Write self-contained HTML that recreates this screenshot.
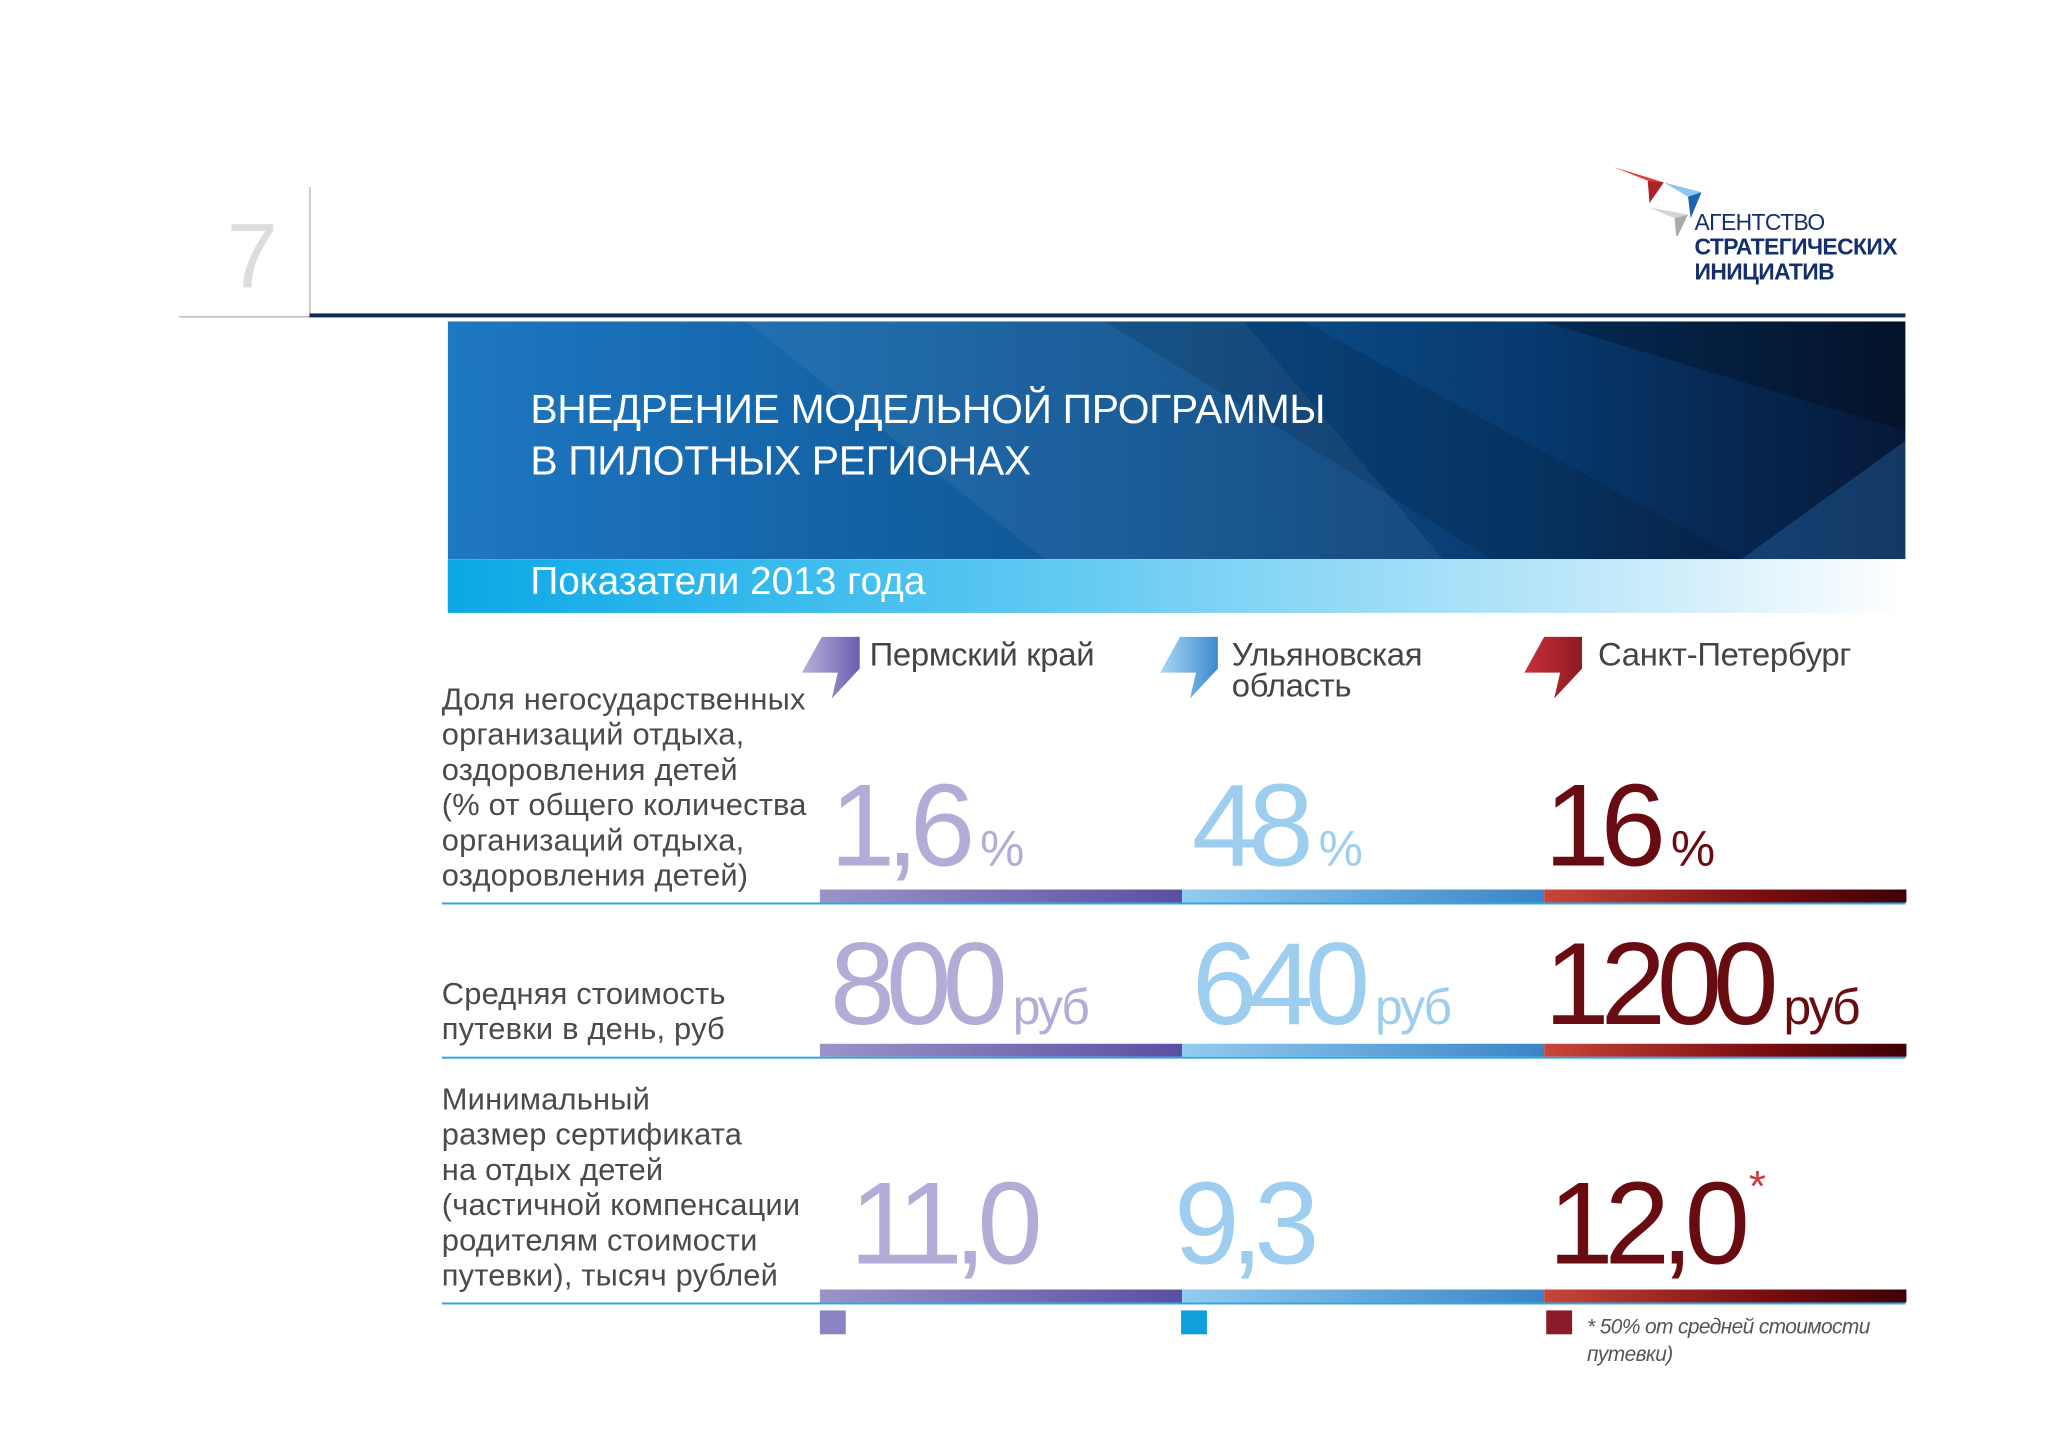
<!DOCTYPE html>
<html><head><meta charset="utf-8">
<style>
body{margin:0;width:2048px;height:1448px;background:#fff;position:relative;overflow:hidden;font-family:"Liberation Sans",sans-serif}
#wrap{position:absolute;left:0;top:0;width:2048px;height:1448px;transform:scale(0.995);transform-origin:0 0}
.abs{position:absolute}
.lbl{position:absolute;left:444px;color:#4a4a4a;font-size:31px;line-height:35.4px;letter-spacing:0.2px;white-space:nowrap}
.hdr{position:absolute;color:#444;font-size:33px;line-height:31px;letter-spacing:-0.3px}
.num{position:absolute;font-size:118px;letter-spacing:-9px;line-height:1;white-space:nowrap}
.unit{font-size:50px;letter-spacing:-2px;margin-left:14px}
</style></head><body><div id="wrap">
<div class="abs" style="left:228px;top:206px;font-size:92px;color:#dcdcdc;font-weight:normal">7</div>
<div class="abs" style="left:311px;top:188px;width:1px;height:131px;background:#999"></div>
<div class="abs" style="left:180px;top:318px;width:131px;height:1px;background:#999"></div>
<div class="abs" style="left:311px;top:315px;width:1604px;height:4px;background:#0e2a55"></div>

<svg class="abs" style="left:1620px;top:162px" width="90" height="75" viewBox="0 0 100 80">
<polygon points="2,5 58,22 40,20" fill="#e53a3a"/><polygon points="40,20 58,22 42,45" fill="#a8242a"/>
<polygon points="58,22 100,33 85,38" fill="#8cc7ee"/><polygon points="85,38 100,33 88,62" fill="#1b63b0"/>
<polygon points="42,50 85,58 70,62" fill="#d4d4d4"/><polygon points="70,62 85,58 72,85" fill="#aaa"/>
</svg>
<div class="abs" style="left:1703px;top:211px;color:#13306b;font-size:23px;line-height:25px;letter-spacing:-0.6px">
<div>АГЕНТСТВО</div><div style="font-weight:bold">СТРАТЕГИЧЕСКИХ</div><div style="font-weight:bold">ИНИЦИАТИВ</div></div>

<svg class="abs" style="left:450px;top:323px" width="1465" height="239">
<defs><linearGradient id="bg" x1="0" x2="1"><stop offset="0" stop-color="#1e78c2"/><stop offset="0.45" stop-color="#0d5594"/><stop offset="0.75" stop-color="#07396e"/><stop offset="1" stop-color="#061838"/></linearGradient></defs>
<rect width="1465" height="239" fill="url(#bg)"/>
<polygon points="300,0 800,0 1000,239 600,239" fill="#ffffff" opacity="0.06"/>
<polygon points="660,0 860,0 1300,239 1050,239" fill="#000" opacity="0.12"/>
<polygon points="1100,0 1465,0 1465,110" fill="#000" opacity="0.25"/>
<polygon points="1300,239 1465,120 1465,239" fill="#2a6aa8" opacity="0.4"/>
</svg>
<div class="abs" style="left:533px;top:385px;color:#fff;font-size:41px;line-height:52px;letter-spacing:-0.3px">ВНЕДРЕНИЕ МОДЕЛЬНОЙ ПРОГРАММЫ<br>В ПИЛОТНЫХ РЕГИОНАХ</div>
<div class="abs" style="left:450px;top:562px;width:1465px;height:54px;background:linear-gradient(90deg,#0ba8e6 0%,#5cc8f2 40%,#c4e9fa 80%,#fff 100%)"></div>
<div class="abs" style="left:533px;top:558px;color:#fff;font-size:39px;line-height:54px">Показатели 2013 года</div>

<div id="root"></div>
<div class="abs" style="left:1595px;top:1320px;color:#555;font-size:21px;line-height:28px;font-style:italic;letter-spacing:-0.6px">* 50% от средней стоимости<br>путевки)</div>
</div>
<script>
const regions=["Пермский край","Ульяновская<br>область","Санкт-Петербург"];
const row1Values=["1,6","48","16"];
const row2Values=["800","640","1200"];
const row3Values=["11,0","9,3","12,0"];
const units=["%","руб",""];
const rowLabels=[
["Доля негосударственных","организаций отдыха,","оздоровления детей","(% от общего количества","организаций отдыха,","оздоровления детей)"],
["Средняя стоимость","путевки в день, руб"],
["Минимальный","размер сертификата","на отдых детей","(частичной  компенсации","родителям стоимости","путевки), тысяч  рублей"]];
const numColors=["#b3acd6","#9dcdef","#680c12"];
const barGrads=["linear-gradient(90deg,#9a94c8,#5a4fa2)","linear-gradient(90deg,#93cbf0,#3a84c6)","linear-gradient(90deg,#c8463a,#7a0e10 60%,#3d0006)"];
const iconCols=[["#b7b1dc","#6a5fb0"],["#a8d8f5","#3d8ad0"],["#c8303a","#8e1a22"]];
const sqCols=["#8a84c2","#0e9fdc","#8b1b2a"];
const root=document.getElementById('root');
const colX=[824,1188,1552],colW=364;
const rowLabelTop=[685,981,1087];
const numBase=[869,1028,1269];
const barTop=[894,1049,1296];
function mk(tag,css,html){const e=document.createElement(tag);e.style.cssText=css;if(html!==undefined)e.innerHTML=html;root.appendChild(e);return e;}
const hdrX=[874,1238,1606],iconX=[806,1166,1532];
regions.forEach((r,i)=>{
 const s=mk('div',`position:absolute;left:${iconX[i]}px;top:640px;width:60px;height:60px`);
 s.innerHTML=`<svg width="60" height="62"><defs><linearGradient id="ig${i}" x1="0" x2="1"><stop offset="0" stop-color="${iconCols[i][0]}"/><stop offset="1" stop-color="${iconCols[i][1]}"/></linearGradient></defs><polygon points="20,0 58,0 58,32 30,62 36,36 0,36" fill="url(#ig${i})"/></svg>`;
 
 
 const h=mk('div',`left:${hdrX[i]}px;top:642px`,r);h.className='hdr';
 
 
});
rowLabels.forEach((lines,k)=>{
 const l=mk('div',`top:${rowLabelTop[k]}px`,lines.join('<br>'));l.className='lbl';
 
 
 const line=mk('div',`position:absolute;left:444px;top:${barTop[k]+13}px;width:1471px;height:2px;background:#2aa9e0`);
 
 
});
[row1Values,row2Values,row3Values].forEach((vals,k)=>{
 vals.forEach((v,i)=>{
  const off=(k===2)?[30,-8,4][i]:[10,10,0][i];
  const n=mk('div',`left:${colX[i]+off}px;top:${numBase[k]-98}px;color:${numColors[i]}`);n.className='num';
  let u=units[k];
  n.innerHTML=v+(u?`<span class="unit">${u}</span>`:(k===2&&i===2?`<span style="font-size:44px;color:#d03a3a;vertical-align:top;margin-left:8px">*</span>`:''));
  
  
  const b=mk('div',`position:absolute;left:${colX[i]}px;top:${barTop[k]}px;width:${colW}px;height:13px;background:${barGrads[i]}`);
  
  
 });
});
sqCols.forEach((c,i)=>{
 const q=mk('div',`position:absolute;left:${[824,1187,1554][i]}px;top:1317px;width:26px;height:24px;background:${c}`);
 
 
});
</script>
</body></html>
